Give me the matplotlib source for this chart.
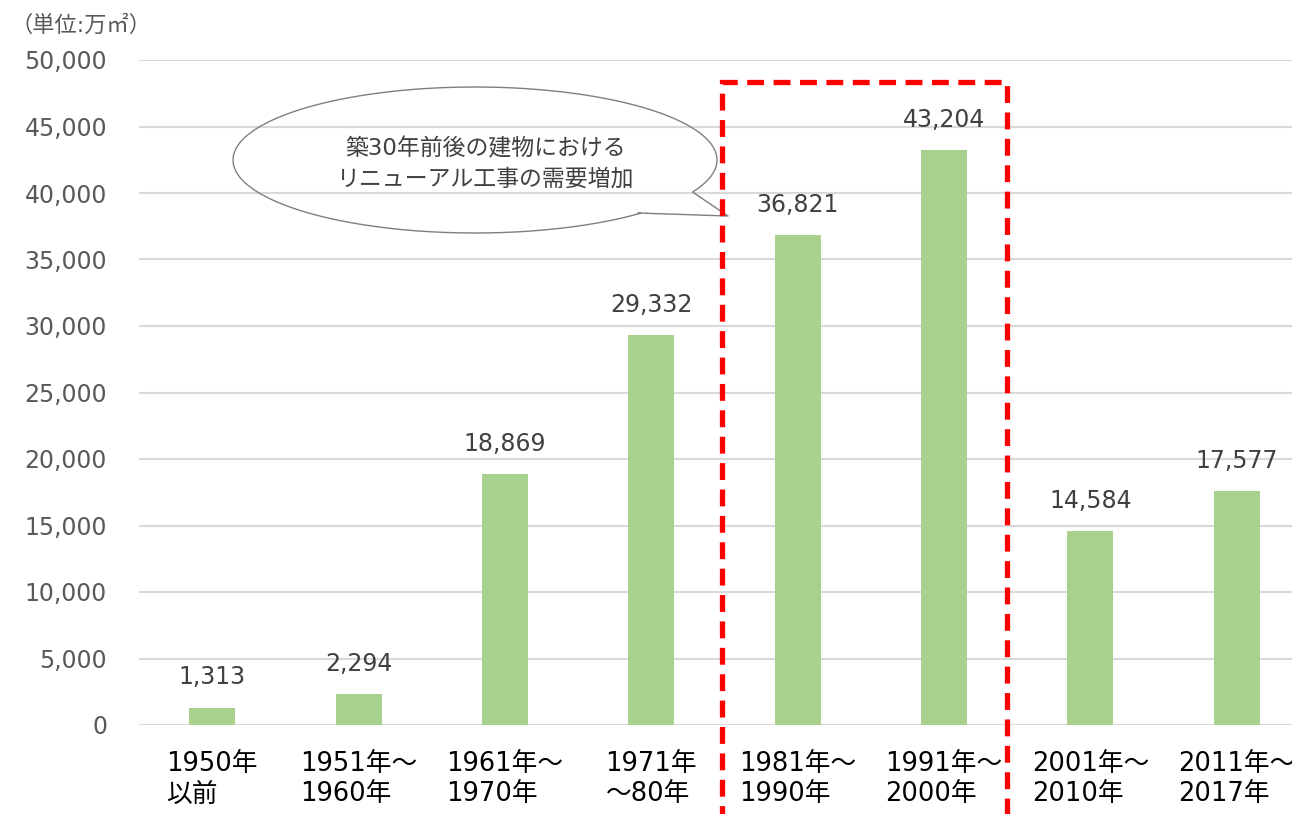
"""
建築年代別の建物ストック（床面積）棒グラフ
"""

import numpy as np
import matplotlib.pyplot as plt
from matplotlib.patches import Rectangle
from matplotlib.ticker import FuncFormatter

plt.rcParams['font.family'] = ['DejaVu Sans', 'Noto Sans CJK JP']

# data
periods = ['1950年\n以前', '1951年～\n1960年', '1961年～\n1970年', '1971年\n～80年',
           '1981年～\n1990年', '1991年～\n2000年', '2001年～\n2010年', '2011年～\n2017年']
areas = [1313, 2294, 18869, 29332, 36821, 43204, 14584, 17577]
y_ticks = list(range(0, 50001, 5000))
unit_label = '（単位:万㎡）'
callout_text = '築30年前後の建物における\nリニューアル工事の需要増加'

BAR_COLOR = '#a9d18e'
GRID_COLOR = '#d9d9d9'
W, H = 1292, 814

fig = plt.figure(figsize=(W / 100, H / 100), dpi=100)
ax = fig.add_axes([139 / W, 1 - 725 / H, (1310 - 139) / W, (725 - 60) / H])

x = np.arange(len(periods))
ax.bar(x, areas, width=0.315, color=BAR_COLOR, zorder=2)

for xi, v in zip(x, areas):
    ax.annotate(f'{v:,}', (xi, v), xytext=(0, 13), textcoords='offset points',
                ha='center', va='bottom', fontsize=17, color='#404040')

ax.set_xlim(-0.5, len(periods) - 0.5)
ax.set_ylim(0, 50000)
ax.set_yticks(y_ticks)
ax.yaxis.set_major_formatter(FuncFormatter(lambda v, p: f'{int(v):,}'))
ax.set_xticks(x)
ax.set_xticklabels(periods, fontsize=18.5, color='black', multialignment='left',
                   linespacing=1.2)
ax.tick_params(axis='x', length=0, pad=19)
ax.tick_params(axis='y', length=0, pad=23, labelsize=17, labelcolor='#595959')
ax.grid(axis='y', color=GRID_COLOR, linewidth=1.5, zorder=0)
ax.set_axisbelow(True)
for s in ax.spines.values():
    s.set_visible(False)

fig.text(10 / W, 1 - 25 / H, unit_label, fontsize=16, color='#595959',
         ha='left', va='center')


def px(x, y):
    return x / W, 1 - y / H


# red dashed frame around 1981-2000
frame = Rectangle(px(722, 880), (1007 - 722) / W, (880 - 82) / H,
                  transform=fig.transFigure, fill=False, edgecolor='#ff0000',
                  linewidth=3.8, linestyle=(0, (3.2, 1.8)), clip_on=False, zorder=5)
fig.patches.append(frame)

# speech bubble
cx, cy, a, b = 475, 160, 242, 73
t = np.radians(np.linspace(47, 26 + 360, 400))
bx = list(cx + a * np.cos(t)) + [728, 638]
by = list(cy + b * np.sin(t)) + [216, 213]
bx.append(bx[0])
by.append(by[0])
fx, fy = zip(*[px(u, v) for u, v in zip(bx, by)])
fig.add_artist(plt.Line2D(fx, fy, transform=fig.transFigure, color='#7f7f7f',
                          linewidth=1))
fig.text(*px(486, 164), callout_text, fontsize=16.5, color='#404040',
         ha='center', va='center', linespacing=1.4)

fig.savefig('out.png', dpi=100)
